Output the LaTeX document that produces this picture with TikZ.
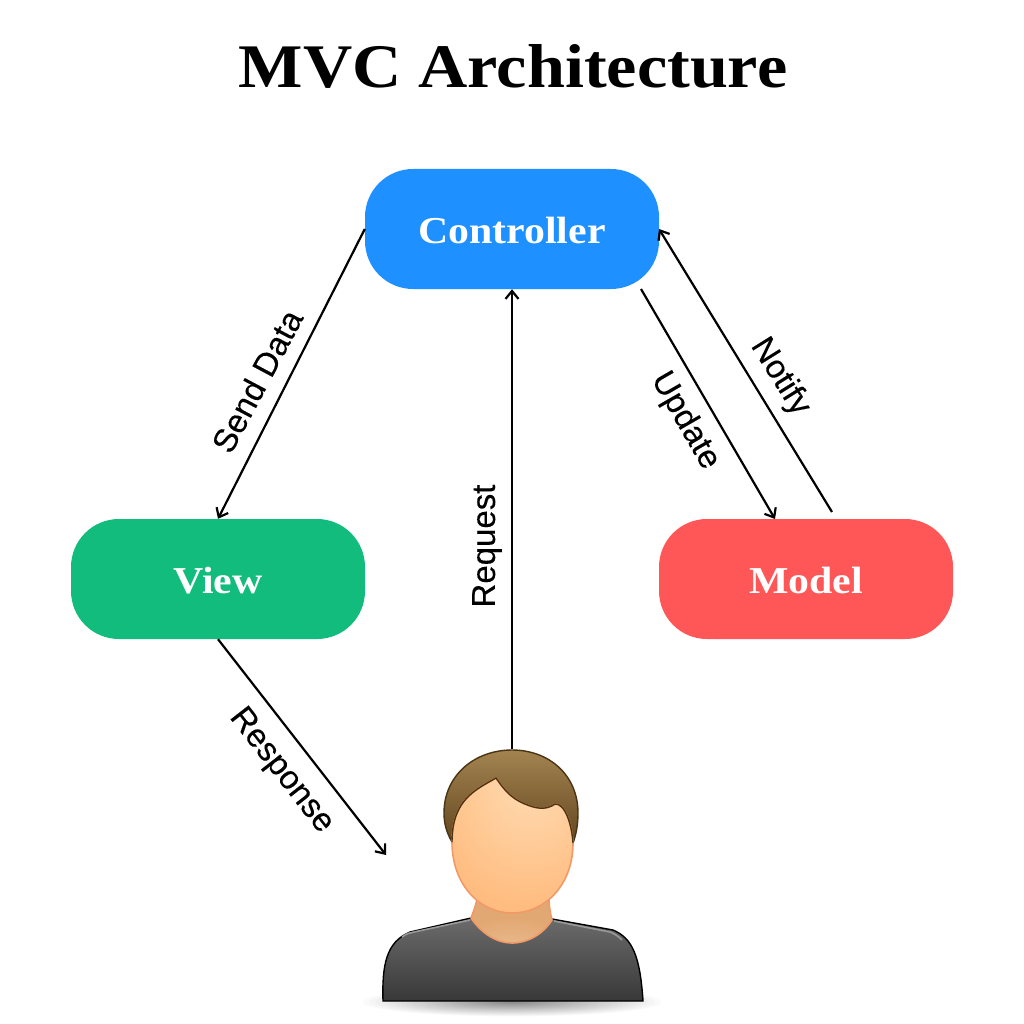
\documentclass[tikz,border=0pt]{standalone}
\usepackage{fontspec}
\setmainfont[FakeBold=0.2]{Liberation Sans}
\newfontfamily\serifbold[FakeStretch=1.1]{Liberation Serif Bold}
\usetikzlibrary{arrows.meta,shapes.misc}
\definecolor{facelight}{HTML}{FFDDB8}
\definecolor{facemid}{HTML}{FFCF9E}
\definecolor{facebase}{HTML}{FFBC80}
\definecolor{faceline}{HTML}{F29A66}
\definecolor{necklight}{HTML}{ECC49C}
\definecolor{neckbase}{HTML}{E2A873}
\definecolor{ctrlblue}{HTML}{1E90FF}
\definecolor{viewgreen}{HTML}{12BC7C}
\definecolor{modelred}{HTML}{FF5757}
\definecolor{hairtop}{HTML}{A38450}
\definecolor{hairbot}{HTML}{634620}
\definecolor{hairline}{HTML}{4A3414}
\pgfdeclareradialshading{faceshade}{\pgfpoint{9bp}{29bp}}{color(0bp)=(facelight); color(18bp)=(facemid); color(40bp)=(facebase); color(100bp)=(facebase)}
\pgfdeclareradialshading{neckshade}{\pgfpoint{0bp}{-50bp}}{color(0bp)=(necklight); color(35bp)=(neckbase); color(100bp)=(neckbase)}
\tikzset{
  mvcbox/.style={rounded corners=48pt,minimum width=294pt,minimum height=120pt,inner sep=0pt,text=white,
    text height=29pt,text depth=0pt,font=\serifbold\fontsize{38}{44}\selectfont},
  link/.style={black,line width=2.2pt,-{Straight Barb[length=8pt,width=13pt,line width=2.2pt]}},
  linklabel/.style={font=\fontsize{33}{38}\selectfont,inner sep=0pt,text=black},
  titletext/.style={font=\serifbold\fontsize{62}{70}\selectfont,inner sep=0pt,text=black},
}
\begin{document}
\begin{tikzpicture}[x=1pt,y=-1pt]
\useasboundingbox (0,0) rectangle (1024,1024);
\fill[white] (0,0) rectangle (1024,1024);
\node[titletext] (title) at (513,66) {MVC Architecture};

\node[mvcbox,fill=ctrlblue] (ctrl) at (512,229) {Controller};
\node[mvcbox,fill=viewgreen] (view) at (218,579) {View};
\node[mvcbox,fill=modelred] (model) at (806,579) {Model};

% person
\foreach \i in {0,...,24}{
  \pgfmathsetmacro{\shrink}{1-\i/25}
  \pgfmathsetmacro{\dark}{\i*1.9}
  \fill[black!\dark] (512,1002) ellipse [x radius=\shrink*155,y radius=\shrink*15];
}
\shade[top color=black!58,bottom color=black!78,draw=black,line width=1.4pt]
  (383,1001) .. controls (382,965) and (386,942) .. (410,932) -- (471,918) -- (552,919) -- (613,930)
  .. controls (632,938) and (640,955) .. (643,1001) -- cycle;
\draw[black!40,line width=1.6pt] (402,937) .. controls (407,933) and (410,933) .. (414,932) -- (470,920);
\draw[black!40,line width=1.6pt] (554,921) -- (610,932) .. controls (615,934) and (618,936) .. (622,940);
\shade[shading=neckshade,draw=faceline,line width=1.6pt]
  (477,898) .. controls (476,906) and (473,912) .. (471,918) .. controls (482,934) and (497,943) .. (512,943)
  .. controls (528,943) and (543,934) .. (552,920) .. controls (550,912) and (549,905) .. (549,896) -- cycle;
\shade[top color=hairtop,bottom color=hairbot,draw=hairline,line width=1.4pt]
  (452,842) .. controls (445,830) and (444,820) .. (444,813) .. controls (444,775) and (475,750) .. (512,750)
  .. controls (549,750) and (578,775) .. (578,813) .. controls (578,825) and (576,835) .. (573,843) -- cycle;
\shade[shading=faceshade,draw=faceline,line width=1.6pt]
  (452,842) .. controls (452,800) and (475,790) .. (496,778) .. controls (503,788) and (510,798) .. (525,804)
  .. controls (535,808) and (545,811) .. (555,804) .. controls (565,803) and (572,825) .. (573,843)
  .. controls (573,885) and (545,913) .. (512,913) .. controls (480,913) and (452,885) .. (452,842) -- cycle;
\draw[hairline,line width=1.4pt] (452,842) .. controls (452,800) and (475,790) .. (496,778) .. controls (503,788) and (510,798) .. (525,804)
  .. controls (535,808) and (545,811) .. (555,804) .. controls (565,803) and (572,825) .. (573,843);
\coordinate (user) at (512,749);
\coordinate (userhand) at (386,855);
\coordinate (updstart) at (641,289);
\coordinate (updend) at (775,519);
\coordinate (notstart) at (832,512);
\coordinate (notend) at (659,229);

\draw[link] (ctrl.west) -- (view.north);
\draw[link] (user) -- (ctrl.south);
\draw[link] (view.south) -- (userhand);
\draw[link] (updstart) -- (updend);
\draw[link] (notstart) -- (notend);

\node[linklabel,rotate=62] (lsend) at (257,381) {Send Data};
\node[linklabel,rotate=90] (lreq) at (487,546) {Request};
\node[linklabel,rotate=-52] (lresp) at (281,771) {Response};
\node[linklabel,rotate=-60] (lupd) at (685,421) {Update};
\node[linklabel,rotate=-58] (lnot) at (780,377) {Notify};
\end{tikzpicture}
\end{document}
